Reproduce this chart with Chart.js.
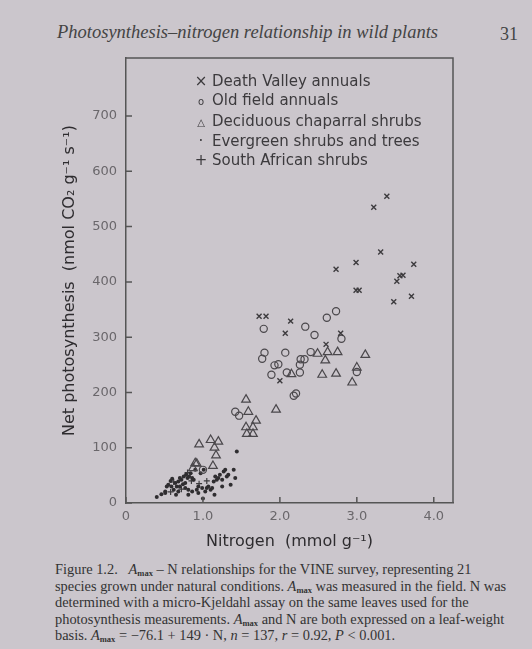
<!DOCTYPE html>
<html>
<head>
<meta charset="utf-8">
<script src="https://cdn.jsdelivr.net/npm/chart.js@4.4.1/dist/chart.umd.min.js"></script>
<style>
  body { margin: 0; width: 532px; height: 649px; overflow: hidden; position: relative;
         background: #cbc6cc; color: #3a383b; font-family: "DejaVu Sans", sans-serif; }
  #wrap { position: absolute; left: 0; top: 0; width: 532px; height: 560px; }
  .hdr { position: absolute; top: 22px; left: 57px; font: italic 18.5px "Liberation Serif", serif; color: #444; }
  .pg { position: absolute; top: 24px; left: 500px; font: 18px "Liberation Serif", serif; color: #444; }
  .legend { position: absolute; left: 190px; top: 72px; font-size: 15px; line-height: 19.3px; color: #3c3a3d; }
  .legend span.m { display: inline-block; width: 22px; text-align: center; }
  .cap { position: absolute; left: 55px; top: 561px; font: 14.4px/16.5px "Liberation Serif", serif;
         white-space: nowrap; color: #333; }
  .cap sub { font-size: 8.5px; font-style: normal; font-weight: bold; line-height: 0; vertical-align: -2px; }
</style>
</head>
<body>
<div class="hdr">Photosynthesis–nitrogen relationship in wild plants</div>
<div class="pg">31</div>
<div id="wrap"><canvas id="scatter"></canvas></div>
<div class="legend">
  <div><span class="m">×</span>Death Valley annuals</div>
  <div><span class="m" style="font-size:10px">o</span>Old field annuals</div>
  <div><span class="m" style="font-size:10px">△</span>Deciduous chaparral shrubs</div>
  <div><span class="m">·</span>Evergreen shrubs and trees</div>
  <div><span class="m">+</span>South African shrubs</div>
</div>
<div class="cap">
  Figure 1.2.&nbsp;&nbsp; <i>A<sub>max</sub></i> – N relationships for the VINE survey, representing 21<br>
  species grown under natural conditions. <i>A<sub>max</sub></i> was measured in the field. N was<br>
  determined with a micro-Kjeldahl assay on the same leaves used for the<br>
  photosynthesis measurements. <i>A<sub>max</sub></i> and N are both expressed on a leaf-weight<br>
  basis. <i>A<sub>max</sub></i> = −76.1 + 149 · N, <i>n</i> = 137, <i>r</i> = 0.92, <i>P</i> &lt; 0.001.
</div>

<script>
// tick values
const xTicks = [0, 1, 2, 3, 4];
const yTicks = [0, 100, 200, 300, 400, 500, 600, 700];

// [nitrogen, photosynthesis] pairs
const deathValley = [
  [3.22, 535], [3.39, 555], [3.31, 454], [2.99, 435], [2.73, 423], [3.74, 432],
  [3.60, 412], [3.56, 411], [3.52, 401], [2.99, 385], [3.03, 385], [3.48, 364],
  [3.71, 374], [1.73, 338], [1.82, 338], [2.14, 329], [2.07, 307], [2.79, 307],
  [2.60, 287], [2.00, 221]
];
const oldField = [
  [2.73, 347], [2.61, 335], [1.79, 315], [2.33, 319], [2.45, 304], [2.80, 297],
  [1.80, 272], [1.77, 261], [2.07, 272], [2.40, 273], [2.27, 260], [2.32, 260],
  [2.26, 250], [1.93, 249], [1.98, 251], [2.09, 236], [1.89, 232], [2.26, 236],
  [2.18, 194], [2.21, 198], [3.00, 237], [1.42, 165], [1.47, 158], [1.00, 60]
];
const deciduous = [
  [2.49, 270], [2.62, 273], [2.75, 273], [3.11, 268], [2.59, 258], [2.15, 233],
  [2.55, 232], [2.73, 234], [3.00, 245], [2.94, 218], [1.56, 187], [1.95, 169],
  [1.59, 165], [1.69, 149], [1.56, 137], [1.65, 137], [1.57, 125], [1.65, 125],
  [0.95, 106], [1.10, 114], [1.20, 111], [1.15, 100], [1.17, 86], [1.13, 67],
  [0.92, 71], [0.87, 63], [0.90, 72]
];
const evergreen = [
  [0.40, 11], [0.46, 16], [0.51, 21], [0.53, 30], [0.55, 33], [0.58, 40],
  [0.59, 30], [0.62, 24], [0.64, 36], [0.66, 30], [0.68, 21], [0.70, 30],
  [0.72, 42], [0.74, 34], [0.77, 27], [0.78, 51], [0.80, 45], [0.82, 48],
  [0.84, 54], [0.86, 45], [0.88, 42], [0.90, 60], [0.92, 24], [0.94, 30],
  [0.97, 54], [0.99, 27], [1.01, 60], [1.03, 21], [1.05, 27], [1.07, 30],
  [1.10, 24], [1.12, 27], [1.14, 39], [1.16, 48], [1.18, 42], [1.20, 45],
  [1.22, 51], [1.25, 42], [1.27, 57], [1.29, 60], [1.31, 48], [1.33, 51],
  [1.40, 60], [1.42, 45], [0.68, 39], [0.77, 36], [0.51, 18], [0.81, 15],
  [0.86, 21], [0.94, 18], [0.81, 24], [1.44, 93], [0.60, 44], [0.70, 45],
  [0.75, 48], [0.65, 15], [1.36, 33], [1.25, 30], [1.15, 15], [1.00, 8]
];
const southAfrican = [
  [0.62, 38], [0.72, 25], [0.85, 40], [0.80, 55], [0.95, 35], [1.05, 40], [0.58, 20]
];

const toPts = arr => arr.map(p => ({ x: p[0], y: p[1] }));
const ink = "#3d3b3e";

// inward tick marks plus the top/right frame
const frame = {
  id: "frame",
  afterDatasetsDraw(chart) {
    const { ctx, chartArea: a, scales: { x, y } } = chart;
    ctx.save();
    ctx.strokeStyle = "#555";
    ctx.lineWidth = 1.5;
    ctx.beginPath();
    ctx.moveTo(a.left, a.top); ctx.lineTo(a.right, a.top); ctx.lineTo(a.right, a.bottom);
    xTicks.forEach(v => { const px = x.getPixelForValue(v); ctx.moveTo(px, a.bottom); ctx.lineTo(px, a.bottom - 6); });
    yTicks.forEach(v => { const py = y.getPixelForValue(v); ctx.moveTo(a.left, py); ctx.lineTo(a.left + 6, py); });
    ctx.stroke();
    ctx.restore();
  }
};

const config = {
  type: "scatter",
  data: {
    datasets: [
      { label: "Death Valley annuals", data: toPts(deathValley), pointStyle: "crossRot",
        radius: 3.5, borderColor: ink, borderWidth: 1.4 },
      { label: "Old field annuals", data: toPts(oldField), pointStyle: "circle",
        radius: 3.6, borderColor: "#4a474b", backgroundColor: "rgba(0,0,0,0)", borderWidth: 1.2 },
      { label: "Deciduous chaparral shrubs", data: toPts(deciduous), pointStyle: "triangle",
        radius: 5, borderColor: "#4a474b", backgroundColor: "rgba(0,0,0,0)", borderWidth: 1.2 },
      { label: "Evergreen shrubs and trees", data: toPts(evergreen), pointStyle: "circle",
        radius: 2, borderWidth: 0, backgroundColor: "#2f2d30" },
      { label: "South African shrubs", data: toPts(southAfrican), pointStyle: "cross",
        radius: 3, borderColor: ink, borderWidth: 1.2 }
    ]
  },
  options: {
    responsive: true,
    maintainAspectRatio: false,
    animation: false,
    devicePixelRatio: 1,
    layout: { padding: { top: 58, right: 79, left: 0, bottom: 0 } },
    plugins: { legend: { display: false }, tooltip: { enabled: false } },
    scales: {
      x: {
        type: "linear", min: 0, max: 4.25,
        afterBuildTicks: s => { s.ticks = xTicks.map(v => ({ value: v })); },
        afterFit: s => { s.height = 57; },
        grid: { display: false, drawTicks: false },
        border: { display: true, color: "#555", width: 1.5 },
        ticks: { padding: 6, color: "#6a676b", font: { size: 13, family: "DejaVu Sans" },
                 callback: v => v === 0 ? "0" : v.toFixed(1) },
        title: { display: true, text: "Nitrogen  (mmol g⁻¹)", color: "#2e2c2f",
                 font: { size: 16, family: "DejaVu Sans" }, padding: { top: 0, bottom: 9 } }
      },
      y: {
        type: "linear", min: 0, max: 805,
        afterBuildTicks: s => { s.ticks = yTicks.map(v => ({ value: v })); },
        afterFit: s => { s.width = 126; },
        grid: { display: false, drawTicks: false },
        border: { display: true, color: "#555", width: 1.5 },
        ticks: { padding: 9, color: "#6a676b", font: { size: 13, family: "DejaVu Sans" } },
        title: { display: true, text: "Net photosynthesis  (nmol CO₂ g⁻¹ s⁻¹)", color: "#2e2c2f",
                 font: { size: 16, family: "DejaVu Sans" }, padding: { top: 60, bottom: 0 } }
      }
    }
  },
  plugins: [frame]
};

new Chart(document.getElementById("scatter").getContext("2d"), config);
</script>
</body>
</html>
